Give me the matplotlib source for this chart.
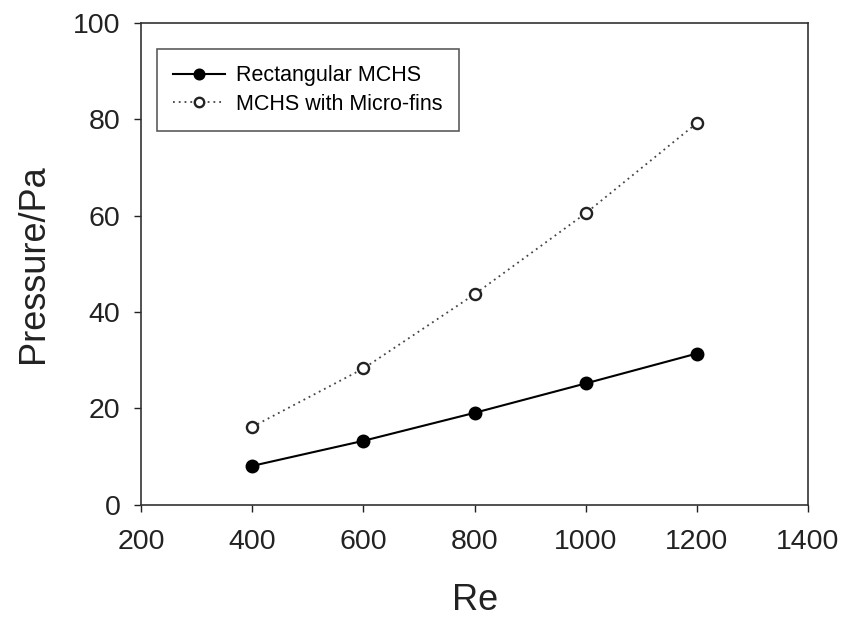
import matplotlib
matplotlib.use("Agg")
import matplotlib.pyplot as plt

plt.rcParams['font.family'] = ['Liberation Sans', 'DejaVu Sans']

re_values = [400, 600, 800, 1000, 1200]
rect_mchs = [8.1, 13.3, 19.1, 25.2, 31.4]
microfin_mchs = [16.2, 28.3, 43.7, 60.5, 79.2]
x_ticks = [200, 400, 600, 800, 1000, 1200, 1400]
y_ticks = [0, 20, 40, 60, 80, 100]

fig = plt.figure(figsize=(8.46, 6.18), dpi=100)
ax = fig.add_axes([0.167, 0.183, 0.788, 0.780])

ax.plot(re_values, rect_mchs, color='black', linewidth=1.5, marker='o',
        markersize=9, markerfacecolor='black', markeredgecolor='black',
        label='Rectangular MCHS')
ax.plot(re_values, microfin_mchs, color='#444444', linewidth=1.3,
        linestyle=(0, (1, 2.2)), marker='o', markersize=8,
        markerfacecolor='white', markeredgecolor='#222222', markeredgewidth=1.7,
        label='MCHS with Micro-fins')

ax.set_xlim(200, 1400)
ax.set_ylim(0, 100)
ax.set_xticks(x_ticks)
ax.set_yticks(y_ticks)
ax.tick_params(axis='both', direction='out', length=5, width=1, labelsize=20.5,
               colors='#222222')
ax.tick_params(axis='x', pad=12.5)
ax.tick_params(axis='y', pad=10)
for s in ax.spines.values():
    s.set_linewidth(1.2)
    s.set_color('#333333')

ax.set_xlabel('Re', fontsize=26, labelpad=20, color='#222222')
ax.set_ylabel('Pressure/Pa', fontsize=26, labelpad=16, color='#222222')

leg = ax.legend(loc='upper left', bbox_to_anchor=(0.024, 0.946), borderaxespad=0,
                fontsize=15.5, frameon=True, fancybox=False, edgecolor='#333333',
                handlelength=2.4, handletextpad=0.5, borderpad=0.75, labelspacing=0.35,
                markerscale=0.85)
leg.get_frame().set_linewidth(1.2)

fig.savefig('out.png', dpi=100)
